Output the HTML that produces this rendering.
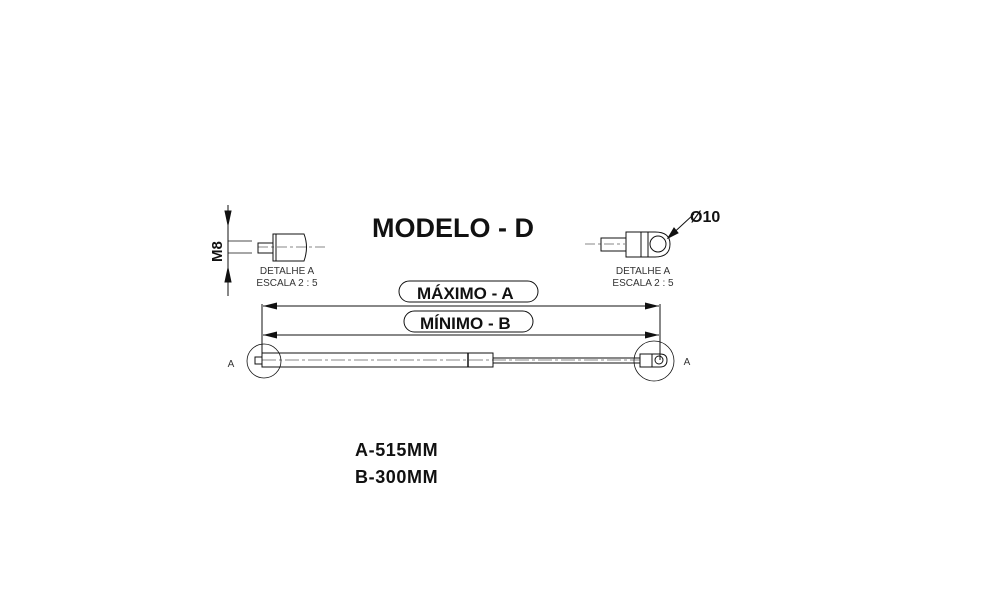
<!DOCTYPE html>
<html><head><meta charset="utf-8"><style>
body{margin:0;background:#fff;width:997px;height:600px;overflow:hidden}
svg{position:absolute;left:0;top:0}
</style></head><body>
<svg width="997" height="600" viewBox="0 0 997 600" font-family="Liberation Sans, sans-serif">
<defs>
<marker id="ar" markerWidth="14" markerHeight="7" refX="14" refY="3.5" orient="auto" markerUnits="userSpaceOnUse"><path d="M0,0 L14,3.5 L0,7 z" fill="#111"/></marker>
<marker id="al" markerWidth="14" markerHeight="7" refX="0" refY="3.5" orient="auto" markerUnits="userSpaceOnUse"><path d="M14,0 L0,3.5 L14,7 z" fill="#111"/></marker>
</defs>
<g stroke="#111" fill="none" stroke-width="1">
<line x1="228" y1="205" x2="228" y2="296"/>
<path d="M228,225 L225,211 L231,211 z M228,268 L225,282 L231,282 z" fill="#111"/>
<line x1="228" y1="241" x2="252" y2="241" stroke-width="0.7"/>
<line x1="228" y1="253" x2="252" y2="253" stroke-width="0.7"/>
<rect x="258" y="243" width="15" height="10"/>
<path d="M273,234 L304,234 Q309,247 304,261 L273,261 z"/>
<line x1="276" y1="234" x2="276" y2="261"/>
<line x1="258" y1="247" x2="325" y2="247" stroke-width="0.6" stroke-dasharray="10,3,3,3"/>
<rect x="601" y="238" width="25" height="13"/>
<line x1="585" y1="244" x2="625" y2="244" stroke-width="0.6" stroke-dasharray="10,3,3,3"/>
<rect x="626" y="232" width="15" height="25"/>
<path d="M641,232 L655,232 Q670,232 670,244 Q670,257 655,257 L641,257 z"/>
<line x1="648" y1="232" x2="648" y2="257"/>
<circle cx="658" cy="244" r="8"/>
<line x1="668" y1="238" x2="694" y2="214"/>
<path d="M668,238 L674,228 L678,233 z" fill="#111"/>
<line x1="262" y1="304" x2="262" y2="360"/>
<line x1="660" y1="304" x2="660" y2="360"/>
<line x1="263" y1="306" x2="659" y2="306" marker-start="url(#al)" marker-end="url(#ar)"/>
<line x1="263" y1="335" x2="659" y2="335" marker-start="url(#al)" marker-end="url(#ar)"/>
<rect x="399" y="281" width="139" height="21" rx="10.5"/>
<rect x="404" y="311" width="129" height="21" rx="10.5"/>
<rect x="255" y="357" width="7" height="7"/>
<rect x="262" y="353" width="231" height="14"/>
<line x1="468" y1="353" x2="468" y2="367" stroke-width="1.5"/>
<line x1="493" y1="358" x2="640" y2="358"/>
<line x1="493" y1="363" x2="640" y2="363"/>
<line x1="262" y1="360" x2="640" y2="360" stroke-width="0.5" stroke-dasharray="14,3,3,3"/>
<rect x="640" y="354" width="12" height="13"/>
<path d="M652,354 L660,354 Q667,354 667,360 Q667,367 660,367 L652,367 z"/>
<circle cx="659" cy="360" r="4"/>
<circle cx="264" cy="361" r="17" stroke-width="0.8"/>
<circle cx="654" cy="361" r="20" stroke-width="0.8"/>
</g>
<g fill="#111" font-weight="bold">
<text x="372" y="237" font-size="27">MODELO - D</text>
<text x="417" y="299" font-size="17">MÁXIMO - A</text>
<text x="420" y="329" font-size="17">MÍNIMO - B</text>
<text x="690" y="222" font-size="16">Ø10</text>
<text transform="translate(222,262) rotate(-90)" font-size="15">M8</text>
<text x="355" y="456" font-size="18" letter-spacing="0.6">A-515MM</text>
<text x="355" y="483" font-size="18" letter-spacing="0.6">B-300MM</text>
</g>
<g fill="#333" font-size="10" text-anchor="middle">
<text x="287" y="274">DETALHE A</text>
<text x="287" y="286">ESCALA 2 : 5</text>
<text x="643" y="274">DETALHE A</text>
<text x="643" y="286">ESCALA 2 : 5</text>
<text x="231" y="367">A</text>
<text x="687" y="365">A</text>
</g>
</svg>
</body></html>
